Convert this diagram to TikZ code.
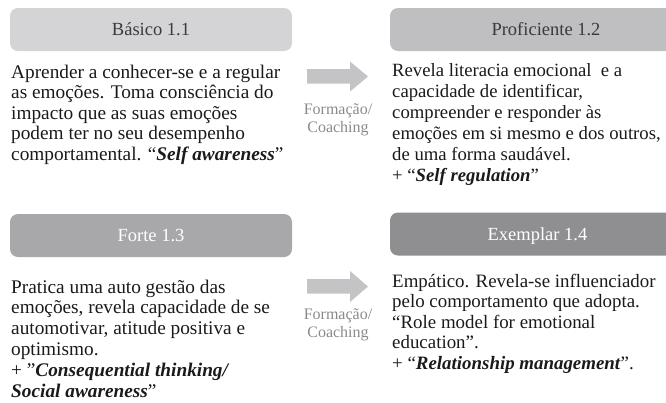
\documentclass[tikz,border=0pt]{standalone}
\usepackage{fontspec}
\setmainfont{Liberation Serif}
\definecolor{hdA}{HTML}{D4D4D6}
\definecolor{hdB}{HTML}{BFBFC1}
\definecolor{hdC}{HTML}{A8A8AA}
\definecolor{hdD}{HTML}{8F8F91}
\definecolor{hdtext}{HTML}{3A3A3A}
\definecolor{arrowgray}{HTML}{C4C4C6}
\definecolor{labelgray}{HTML}{8A8A8A}
\definecolor{bodyink}{HTML}{1A1A1A}
\newcommand\bodyblock[3]{\parbox[t]{300pt}{\raggedright\fontsize{#1}{#2}\selectfont\lineskiplimit=-50pt #3}}
\tikzset{
  header/.style={rounded corners=8pt, inner sep=0pt, minimum height=43pt,
    text height=12pt, text depth=0pt, font=\fontsize{18.5}{20}\selectfont},
  bodytext/.style={anchor=base west, inner sep=0pt, text=bodyink},
  flabel/.style={inner sep=0pt, anchor=base, text=labelgray, font=\fontsize{16}{18}\selectfont},
  blockarrow/.style={fill=arrowgray, draw=none}
}
\begin{document}
\begin{tikzpicture}[x=1pt,y=-1pt]
\useasboundingbox (0,0) rectangle (666,402);
% headers
\node[header, fill=hdA, text=hdtext, minimum width=282pt] (h1) at (151,29.5) {Básico 1.1};
\node[header, fill=hdB, text=hdtext, minimum width=312pt] (h2) at (546,29.5) {Proficiente 1.2};
\node[header, fill=hdC, text=white, minimum width=282pt] (h3) at (151,235.5) {Forte 1.3};
\node[header, fill=hdD, text=white, minimum width=295pt] (h4) at (537.5,234) {Exemplar 1.4};
% bodies
\node[bodytext] (b1) at (11,78) {\bodyblock{19.3}{20.6}{Aprender a conhecer-se e a regular\\
as emoções. Toma consciência do\\
impacto que as suas emoções\\
podem ter no seu desempenho\\
comportamental. “\textbf{\textit{Self awareness}}”}};
\node[bodytext] (b2) at (392,76) {\bodyblock{18.7}{21}{Revela literacia emocional\ \ e a\\
capacidade de identificar,\\
compreender e responder às\\
emoções em si mesmo e dos outros,\\
de uma forma saudável.\\
+ “\textbf{\textit{Self regulation}}”}};
\node[bodytext] (b3) at (11,293) {\bodyblock{19.3}{20.8}{Pratica uma auto gestão das\\
emoções, revela capacidade de se\\
automotivar, atitude positiva e\\
optimismo.\\
+ ”\textbf{\textit{Consequential thinking/}}\\
\textbf{\textit{Social awareness}}”}};
\node[bodytext] (b4) at (392,287) {\bodyblock{18.9}{20.5}{Empático. Revela-se influenciador\\
pelo comportamento que adopta.\\
“Role model for emotional\\
education”.\\
+ “\textbf{\textit{Relationship management}}”.}};
% arrows
\fill[blockarrow] (307,69) -- (350,69) -- (350,61.5) -- (368,76.5) -- (350,91.5) -- (350,83.5) -- (307,83.5) -- cycle;
\fill[blockarrow] (307,279) -- (350,279) -- (350,271) -- (368,286.5) -- (350,302) -- (350,293.5) -- (307,293.5) -- cycle;
% labels
\node[flabel] (l1a) at (338,114) {Formação/};
\node[flabel] (l1b) at (338,132) {Coaching};
\node[flabel] (l2a) at (338,319) {Formação/};
\node[flabel] (l2b) at (338,337) {Coaching};
\end{tikzpicture}
\end{document}
